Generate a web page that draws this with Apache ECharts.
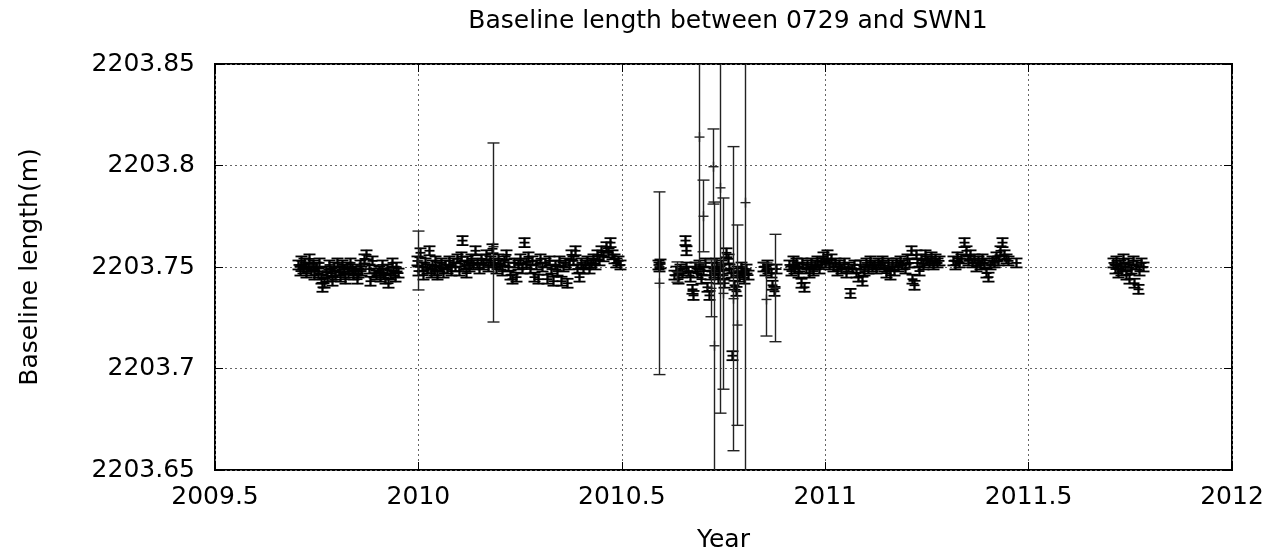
<!DOCTYPE html>
<html>
<head>
<meta charset="utf-8">
<script src="https://cdn.jsdelivr.net/npm/echarts@6/dist/echarts.min.js"></script>
<style>
html,body{margin:0;padding:0;background:#fff;}
#chart{width:1276px;height:558px;}
</style>
</head>
<body>
<div id="chart"></div>
<script>
// ---- data (year, baseline length in m) ----
var xTicks = [2009.5, 2010, 2010.5, 2011, 2011.5, 2012];
var yTicks = [2203.65, 2203.7, 2203.75, 2203.8, 2203.85];
var SMALL_ERR = 0.0022; // half-length of the short error bars

var seg1 = [[2009.704,2203.751],[2009.708,2203.748],[2009.712,2203.753],[2009.716,2203.749],[2009.720,2203.752],[2009.724,2203.747],[2009.728,2203.750],[2009.732,2203.754],[2009.736,2203.748],[2009.740,2203.751],[2009.744,2203.746],[2009.748,2203.750],[2009.752,2203.747],[2009.756,2203.752],[2009.760,2203.744],[2009.764,2203.740],[2009.768,2203.742],[2009.772,2203.748],[2009.776,2203.745],[2009.780,2203.751],[2009.784,2203.747],[2009.788,2203.743],[2009.792,2203.750],[2009.796,2203.746],[2009.800,2203.752],[2009.804,2203.748],[2009.808,2203.745],[2009.812,2203.751],[2009.816,2203.749],[2009.820,2203.744],[2009.824,2203.750],[2009.828,2203.747],[2009.832,2203.752],[2009.836,2203.749],[2009.840,2203.746],[2009.844,2203.748],[2009.848,2203.744],[2009.852,2203.747],[2009.856,2203.751],[2009.860,2203.748],[2009.866,2203.754],[2009.872,2203.756],[2009.878,2203.749],[2009.882,2203.743],[2009.886,2203.753],[2009.890,2203.747],[2009.896,2203.746],[2009.902,2203.748],[2009.906,2203.745],[2009.910,2203.751],[2009.914,2203.747],[2009.918,2203.744],[2009.922,2203.749],[2009.926,2203.742],[2009.930,2203.746],[2009.934,2203.752],[2009.938,2203.748],[2009.942,2203.745],[2009.946,2203.750],[2009.950,2203.747]];

var seg2 = [[2009.996,2203.753],[2010.000,2203.748],[2010.004,2203.757],[2010.008,2203.750],[2010.012,2203.746],[2010.016,2203.752],[2010.020,2203.749],[2010.026,2203.758],[2010.030,2203.747],[2010.034,2203.751],[2010.038,2203.748],[2010.042,2203.753],[2010.046,2203.746],[2010.050,2203.750],[2010.055,2203.752],[2010.060,2203.747],[2010.065,2203.751],[2010.070,2203.749],[2010.075,2203.753],[2010.080,2203.748],[2010.085,2203.752],[2010.090,2203.750],[2010.095,2203.754],[2010.100,2203.748],[2010.105,2203.755],[2010.108,2203.763],[2010.112,2203.751],[2010.116,2203.747],[2010.120,2203.753],[2010.125,2203.750],[2010.130,2203.754],[2010.135,2203.751],[2010.140,2203.758],[2010.145,2203.752],[2010.150,2203.749],[2010.155,2203.754],[2010.160,2203.751],[2010.165,2203.756],[2010.170,2203.750],[2010.175,2203.753],[2010.180,2203.759],[2010.185,2203.752],[2010.190,2203.749],[2010.195,2203.754],[2010.200,2203.751],[2010.205,2203.748],[2010.210,2203.753],[2010.215,2203.756],[2010.220,2203.750],[2010.225,2203.746],[2010.230,2203.744],[2010.235,2203.752],[2010.240,2203.745],[2010.245,2203.751],[2010.250,2203.754],[2010.255,2203.749],[2010.260,2203.762],[2010.265,2203.752],[2010.270,2203.755],[2010.275,2203.749],[2010.280,2203.753],[2010.285,2203.745],[2010.290,2203.751],[2010.295,2203.744],[2010.300,2203.754],[2010.305,2203.750],[2010.310,2203.752],[2010.315,2203.744],[2010.320,2203.753],[2010.325,2203.749],[2010.330,2203.743],[2010.335,2203.751],[2010.340,2203.748],[2010.345,2203.753],[2010.350,2203.743],[2010.355,2203.750],[2010.360,2203.752],[2010.365,2203.742],[2010.370,2203.751],[2010.375,2203.756],[2010.380,2203.753],[2010.385,2203.758],[2010.390,2203.749],[2010.395,2203.745],[2010.400,2203.752],[2010.405,2203.749],[2010.410,2203.751],[2010.415,2203.753],[2010.420,2203.749],[2010.425,2203.752],[2010.430,2203.754],[2010.435,2203.751],[2010.440,2203.756],[2010.445,2203.753],[2010.450,2203.758],[2010.455,2203.755],[2010.460,2203.760],[2010.465,2203.757],[2010.470,2203.762],[2010.475,2203.756],[2010.480,2203.754],[2010.485,2203.752],[2010.490,2203.753],[2010.495,2203.751]];

var seg3 = [[2010.588,2203.751],[2010.591,2203.750],[2010.595,2203.7515],[2010.628,2203.746],[2010.633,2203.748],[2010.638,2203.744],[2010.642,2203.749],[2010.648,2203.747],[2010.656,2203.763],[2010.659,2203.758],[2010.657,2203.750],[2010.662,2203.748],[2010.672,2203.739],[2010.676,2203.736],[2010.668,2203.745],[2010.680,2203.750],[2010.685,2203.747],[2010.690,2203.751],[2010.695,2203.744],[2010.700,2203.748],[2010.705,2203.752],[2010.710,2203.740],[2010.714,2203.736],[2010.718,2203.746],[2010.722,2203.750],[2010.727,2203.747],[2010.731,2203.752],[2010.736,2203.744],[2010.740,2203.748],[2010.744,2203.751],[2010.748,2203.746],[2010.752,2203.742],[2010.757,2203.757],[2010.760,2203.754],[2010.764,2203.749],[2010.768,2203.747],[2010.772,2203.7063],[2010.776,2203.741],[2010.780,2203.738],[2010.784,2203.748],[2010.788,2203.745],[2010.792,2203.750],[2010.796,2203.747],[2010.800,2203.744],[2010.805,2203.749],[2010.810,2203.746],[2010.848,2203.750],[2010.852,2203.748],[2010.856,2203.751],[2010.860,2203.749],[2010.866,2203.747],[2010.870,2203.741],[2010.874,2203.738],[2010.878,2203.749]];

var seg4 = [[2010.912,2203.751],[2010.916,2203.748],[2010.920,2203.753],[2010.924,2203.749],[2010.928,2203.752],[2010.932,2203.747],[2010.936,2203.750],[2010.940,2203.742],[2010.944,2203.752],[2010.948,2203.740],[2010.952,2203.749],[2010.956,2203.751],[2010.960,2203.747],[2010.965,2203.752],[2010.970,2203.748],[2010.975,2203.751],[2010.980,2203.753],[2010.985,2203.749],[2010.990,2203.752],[2010.995,2203.755],[2011.000,2203.752],[2011.005,2203.756],[2011.010,2203.751],[2011.015,2203.754],[2011.020,2203.750],[2011.025,2203.752],[2011.030,2203.748],[2011.035,2203.751],[2011.040,2203.749],[2011.045,2203.752],[2011.050,2203.747],[2011.055,2203.750],[2011.060,2203.737],[2011.065,2203.749],[2011.070,2203.751],[2011.075,2203.747],[2011.080,2203.745],[2011.085,2203.751],[2011.090,2203.743],[2011.095,2203.748],[2011.100,2203.752],[2011.105,2203.749],[2011.110,2203.753],[2011.115,2203.750],[2011.120,2203.751],[2011.125,2203.749],[2011.130,2203.752],[2011.135,2203.751],[2011.140,2203.753],[2011.145,2203.750],[2011.150,2203.747],[2011.155,2203.752],[2011.160,2203.746],[2011.165,2203.751],[2011.170,2203.748],[2011.175,2203.752],[2011.180,2203.750],[2011.185,2203.753],[2011.190,2203.751],[2011.195,2203.749],[2011.200,2203.754],[2011.205,2203.752],[2011.210,2203.758],[2011.214,2203.744],[2011.218,2203.741],[2011.222,2203.756],[2011.226,2203.752],[2011.230,2203.748],[2011.235,2203.754],[2011.240,2203.751],[2011.245,2203.756],[2011.250,2203.753],[2011.255,2203.752],[2011.260,2203.755],[2011.265,2203.751],[2011.270,2203.754],[2011.275,2203.752],[2011.280,2203.753],[2011.315,2203.753],[2011.320,2203.751],[2011.325,2203.755],[2011.330,2203.752],[2011.335,2203.754],[2011.340,2203.762],[2011.345,2203.758],[2011.350,2203.753],[2011.355,2203.756],[2011.360,2203.752],[2011.365,2203.754],[2011.370,2203.750],[2011.375,2203.753],[2011.380,2203.751],[2011.385,2203.754],[2011.390,2203.752],[2011.395,2203.747],[2011.400,2203.745],[2011.405,2203.751],[2011.410,2203.753],[2011.415,2203.752],[2011.420,2203.755],[2011.425,2203.753],[2011.430,2203.758],[2011.435,2203.762],[2011.440,2203.756],[2011.445,2203.754],[2011.450,2203.753],[2011.470,2203.752]];

var seg5 = [[2011.708,2203.752],[2011.712,2203.749],[2011.716,2203.753],[2011.720,2203.747],[2011.724,2203.751],[2011.728,2203.748],[2011.732,2203.754],[2011.736,2203.750],[2011.740,2203.746],[2011.744,2203.752],[2011.748,2203.744],[2011.752,2203.749],[2011.756,2203.753],[2011.760,2203.742],[2011.764,2203.751],[2011.768,2203.739],[2011.772,2203.748],[2011.776,2203.752],[2011.780,2203.750]];

// long error bars: year, value, lower end, upper end
var bigYears  = [2009.999, 2010.183, 2010.592, 2010.636, 2010.690, 2010.700, 2010.723, 2010.719, 2010.727, 2010.741, 2010.749, 2010.773, 2010.783, 2010.803, 2010.855, 2010.877];
var bigValues = [2203.753, 2203.760, 2203.742, 2203.7475, 2203.814, 2203.775, 2203.7994, 2203.7395, 2203.7112, 2203.789, 2203.737, 2203.7344, 2203.7214, 2203.7817, 2203.734, 2203.7395];
var bigLow    = [2203.7387, 2203.7229, 2203.697, 2203.7425, 2203.752, 2203.7575, 2203.781, 2203.7255, 2203.640, 2203.678, 2203.6898, 2203.6595, 2203.672, 2203.630, 2203.716, 2203.7132];
var bigHigh   = [2203.7677, 2203.8111, 2203.787, 2203.7525, 2203.876, 2203.7928, 2203.818, 2203.7535, 2203.782, 2203.900, 2203.784, 2203.8093, 2203.7707, 2203.930, 2203.752, 2203.7661];

// ---- build series data ----
var smallData = [];
[seg1, seg2, seg3, seg4, seg5].forEach(function (seg) {
  seg.forEach(function (p) { smallData.push([p[0], p[1], p[1] - SMALL_ERR, p[1] + SMALL_ERR]); });
});
var bigData = bigYears.map(function (t, i) { return [t, bigValues[i], bigLow[i], bigHigh[i]]; });

var CAP = 6, PLUS = 5;
function makeRenderer(lineWidth, color) {
  return function (params, api) {
    var t = api.value(0), v = api.value(1), lo = api.value(2), hi = api.value(3);
    var c = api.coord([t, v]), cl = api.coord([t, lo]), ch = api.coord([t, hi]);
    var cs = params.coordSys;
    var top = cs.y, bot = cs.y + cs.height;
    var x = Math.round(c[0]) + 0.5;
    function clamp(y) { return Math.max(top, Math.min(bot, y)); }
    var st = { stroke: color, lineWidth: lineWidth };
    var kids = [{ type: 'line', shape: { x1: x, y1: clamp(ch[1]), x2: x, y2: clamp(cl[1]) }, style: st }];
    [ch[1], cl[1]].forEach(function (y) {
      if (y >= top && y <= bot) {
        kids.push({ type: 'line', shape: { x1: x - CAP, y1: y, x2: x + CAP, y2: y }, style: st });
      }
    });
    if (c[1] >= top && c[1] <= bot) {
      kids.push({ type: 'line', shape: { x1: x - PLUS, y1: c[1], x2: x + PLUS, y2: c[1] }, style: st });
      kids.push({ type: 'line', shape: { x1: x, y1: c[1] - PLUS, x2: x, y2: c[1] + PLUS }, style: st });
    }
    return { type: 'group', children: kids };
  };
}

function fmt(v) { return String(parseFloat(v.toFixed(2))); }

var FONT = 'DejaVu Sans';
var chart = echarts.init(document.getElementById('chart'), null, { renderer: 'canvas' });
var gridLine = { show: true, lineStyle: { color: '#666', width: 1, type: [2, 3] } };
chart.setOption({
  animation: false,
  backgroundColor: '#fff',
  title: {
    text: 'Baseline length between 0729 and SWN1',
    left: 723, top: 4, textAlign: 'center',
    textStyle: { fontFamily: FONT, fontSize: 25, fontWeight: 'normal', color: '#000' }
  },
  grid: { left: 215, right: 44, top: 64, bottom: 88, show: true, borderColor: '#000', borderWidth: 2, backgroundColor: 'transparent' },
  xAxis: [{
    type: 'value', min: xTicks[0], max: xTicks[xTicks.length - 1], interval: 0.5,
    name: 'Year', nameLocation: 'middle', nameGap: 58,
    nameTextStyle: { fontFamily: FONT, fontSize: 25, color: '#000' },
    axisLine: { show: false },
    axisTick: { show: true, inside: true, length: 8, lineStyle: { color: '#000', width: 1 } },
    axisLabel: { margin: 15, fontFamily: FONT, fontSize: 25, color: '#000', formatter: fmt },
    splitLine: gridLine
  }, {
    type: 'value', position: 'top', min: xTicks[0], max: xTicks[xTicks.length - 1], interval: 0.5,
    axisLine: { show: false },
    axisTick: { show: true, inside: true, length: 8, lineStyle: { color: '#000', width: 1 } },
    axisLabel: { show: false }, splitLine: { show: false }
  }],
  yAxis: [{
    type: 'value', min: yTicks[0], max: yTicks[yTicks.length - 1], interval: 0.05,
    name: 'Baseline length(m)', nameLocation: 'middle', nameGap: 172, nameRotate: 90,
    nameTextStyle: { fontFamily: FONT, fontSize: 25, color: '#000' },
    axisLine: { show: false },
    axisTick: { show: true, inside: true, length: 8, lineStyle: { color: '#000', width: 1 } },
    axisLabel: { margin: 20, fontFamily: FONT, fontSize: 25, color: '#000', formatter: fmt },
    splitLine: gridLine
  }, {
    type: 'value', position: 'right', min: yTicks[0], max: yTicks[yTicks.length - 1], interval: 0.05,
    axisLine: { show: false },
    axisTick: { show: true, inside: true, length: 8, lineStyle: { color: '#000', width: 1 } },
    axisLabel: { show: false }, splitLine: { show: false }
  }],
  series: [{
    type: 'custom', silent: true, renderItem: makeRenderer(1.8, '#000'),
    encode: { x: 0, y: [1, 2, 3] }, data: smallData
  }, {
    type: 'custom', silent: true, renderItem: makeRenderer(1.4, '#222'),
    encode: { x: 0, y: [1, 2, 3] }, data: bigData
  }]
});
</script>
</body>
</html>
